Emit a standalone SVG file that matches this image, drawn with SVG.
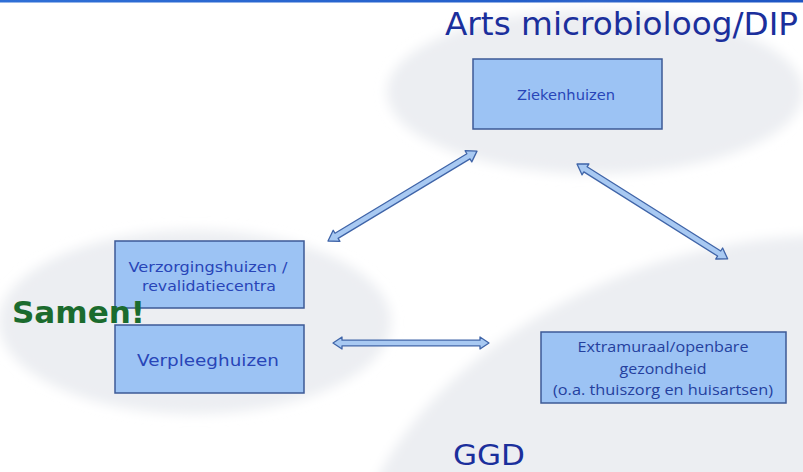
<svg xmlns="http://www.w3.org/2000/svg" width="803" height="472" viewBox="0 0 803 472">
  <defs>
    <filter id="soft" x="-20%" y="-20%" width="140%" height="140%">
      <feGaussianBlur stdDeviation="6"/>
    </filter>
    <linearGradient id="topbar" x1="0" y1="0" x2="1" y2="0">
      <stop offset="0" stop-color="#2f6fd6"/>
      <stop offset="1" stop-color="#1e56c4"/>
    </linearGradient>
    <style>
      .cloud { fill: #eceef2; filter: url(#soft); }
      .box { fill: #9cc3f4; stroke: #3d5a96; stroke-width: 1.5; }
      .lbl { font-family: "DejaVu Sans", Verdana, sans-serif; fill: #2845b8; text-anchor: middle; }
      .lbl2 { font-family: "Open Sans", "Liberation Sans", sans-serif; fill: #24409e; text-anchor: middle; font-size: 14px; }
      .title { font-family: "DejaVu Sans", Tahoma, sans-serif; fill: #1b2f9c; }
      .arrow { fill: #a8c9f2; stroke: #3f64a8; stroke-width: 1.3; stroke-linejoin: round; }
    </style>
  </defs>

  <rect x="0" y="0" width="803" height="472" fill="#ffffff"/>
  <rect x="0" y="0" width="803" height="2.5" fill="url(#topbar)"/>

  <g id="backgrounds">
    <ellipse class="cloud" cx="595" cy="92" rx="208" ry="82"/>
    <ellipse class="cloud" cx="195" cy="322" rx="196" ry="92"/>
    <ellipse class="cloud" cx="720" cy="500" rx="380" ry="245" transform="rotate(-20 720 500)"/>
  </g>

  <g id="labels">
    <text class="title" x="445" y="35" font-size="32" textLength="353" lengthAdjust="spacingAndGlyphs">Arts microbioloog/DIP</text>
    <text class="title" x="453" y="465" font-size="29" textLength="72" lengthAdjust="spacingAndGlyphs" fill="#2a3fae">GGD</text>
  </g>

  <g id="connectors">
    <polygon class="arrow" transform="translate(328 241) rotate(-31.1)" points="0,0 10,-6.5 10,-3 164,-3 164,-6.5 174,0 164,6.5 164,3 10,3 10,6.5"/>
    <polygon class="arrow" transform="translate(577 164) rotate(32.2)" points="0,0 10,-6.5 10,-3 168,-3 168,-6.5 178,0 168,6.5 168,3 10,3 10,6.5"/>
    <polygon class="arrow" transform="translate(333 343)" points="0,0 9,-6 9,-2.8 147,-2.8 147,-6 156,0 147,6 147,2.8 9,2.8 9,6"/>
  </g>

  <g id="ziekenhuizen">
    <rect class="box" x="473" y="59" width="189" height="70"/>
    <text class="lbl" x="566" y="100" font-size="14" textLength="98" lengthAdjust="spacingAndGlyphs">Ziekenhuizen</text>
  </g>

  <g id="verzorgingshuizen">
    <rect class="box" x="115" y="241" width="189" height="67"/>
    <text class="lbl" x="208" y="272" font-size="13.5" textLength="159" lengthAdjust="spacingAndGlyphs">Verzorgingshuizen /</text>
    <text class="lbl" x="209" y="291" font-size="13.5" textLength="134" lengthAdjust="spacingAndGlyphs">revalidatiecentra</text>
  </g>

  <g id="verpleeghuizen">
    <rect class="box" x="115" y="325" width="189" height="68"/>
    <text class="lbl" x="208" y="366" font-size="16.5" textLength="142" lengthAdjust="spacingAndGlyphs" fill="#1f3aa6">Verpleeghuizen</text>
  </g>

  <g id="extramuraal">
    <rect class="box" x="541" y="332" width="245" height="71"/>
    <text class="lbl2" x="663" y="352" textLength="171" lengthAdjust="spacingAndGlyphs">Extramuraal/openbare</text>
    <text class="lbl2" x="663" y="374" textLength="87" lengthAdjust="spacingAndGlyphs">gezondheid</text>
    <text class="lbl2" x="663" y="395" textLength="220" lengthAdjust="spacingAndGlyphs">(o.a. thuiszorg en huisartsen)</text>
  </g>

  <g id="samen">
    <text x="12" y="323" font-family="'DejaVu Sans', Verdana, sans-serif" font-weight="bold" font-size="31" fill="#1b6b2e" textLength="133" lengthAdjust="spacingAndGlyphs">Samen!</text>
  </g>
</svg>
